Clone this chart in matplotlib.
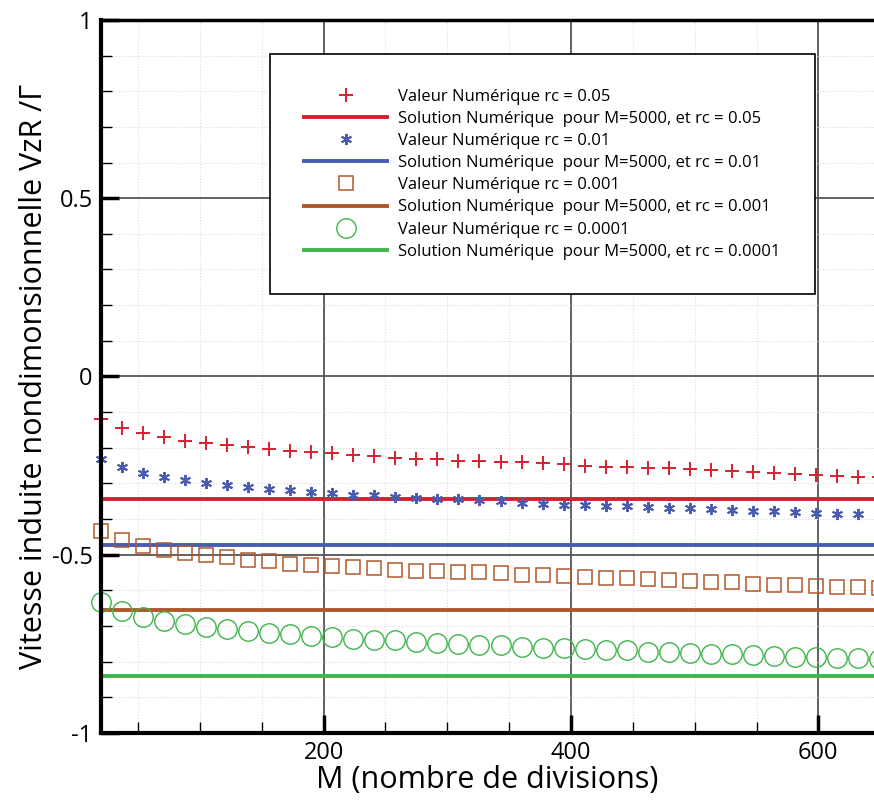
import numpy as np
import matplotlib
matplotlib.use("Agg")
import matplotlib.pyplot as plt
from matplotlib.ticker import MultipleLocator

# M values (nombre de divisions)
M = [20, 37, 54, 71, 88, 105, 122, 139, 156, 173, 190, 207, 224, 241, 258, 275,
     292, 309, 326, 343, 360, 377, 394, 411, 428, 445, 462, 479, 496, 513, 530,
     547, 564, 581, 598, 615, 632, 649]

# valeurs numeriques
v_005 = [-0.120, -0.145, -0.159, -0.171, -0.182, -0.188, -0.193, -0.199, -0.205,
         -0.209, -0.212, -0.215, -0.220, -0.224, -0.228, -0.232, -0.233, -0.236,
         -0.238, -0.240, -0.241, -0.243, -0.246, -0.250, -0.253, -0.253, -0.256,
         -0.258, -0.261, -0.264, -0.266, -0.268, -0.271, -0.275, -0.276, -0.279,
         -0.281, -0.283]
v_001 = [-0.232, -0.255, -0.271, -0.283, -0.290, -0.299, -0.304, -0.311, -0.316,
         -0.318, -0.323, -0.327, -0.332, -0.334, -0.338, -0.341, -0.344, -0.344,
         -0.346, -0.349, -0.354, -0.357, -0.360, -0.362, -0.363, -0.364, -0.367,
         -0.370, -0.370, -0.373, -0.375, -0.378, -0.379, -0.381, -0.384, -0.386,
         -0.387, -0.389]
v_0001 = [-0.435, -0.458, -0.475, -0.486, -0.495, -0.502, -0.508, -0.515, -0.519,
          -0.525, -0.528, -0.532, -0.535, -0.538, -0.542, -0.545, -0.547, -0.549,
          -0.550, -0.553, -0.556, -0.557, -0.559, -0.563, -0.565, -0.567, -0.569,
          -0.572, -0.575, -0.577, -0.578, -0.582, -0.584, -0.586, -0.588, -0.590,
          -0.592, -0.594]
v_00001 = [-0.634, -0.658, -0.675, -0.686, -0.695, -0.703, -0.709, -0.714, -0.720,
           -0.723, -0.728, -0.732, -0.737, -0.739, -0.741, -0.744, -0.747, -0.750,
           -0.753, -0.755, -0.758, -0.761, -0.763, -0.765, -0.767, -0.769, -0.772,
           -0.774, -0.776, -0.778, -0.780, -0.782, -0.784, -0.786, -0.787, -0.790,
           -0.791, -0.793]

# solutions pour M=5000
sol = [-0.345, -0.474, -0.655, -0.840]
rc_labels = ['0.05', '0.01', '0.001', '0.0001']

red = '#d7202f'
blue = '#4a5cb0'
brown = '#b0582c'
green = '#3fb54a'

plt.rcParams['font.family'] = ['Open Sans', 'DejaVu Sans']

fig = plt.figure(figsize=(8.74, 8.0), dpi=100)
ax = fig.add_axes([0.1156, 0.084, 0.8844, 0.891])

xmin, xmax = 20, 645

ax.plot(M, v_005, ls='none', marker='+', ms=10, mew=1.4, c=red,
        label='Valeur Numérique rc = ' + rc_labels[0], clip_on=False)
ax.plot([xmin, xmax], [sol[0], sol[0]], c=red, lw=2.8,
        label='Solution Numérique  pour M=5000, et rc = ' + rc_labels[0])
ax.plot(M, v_001, ls='none', marker=(6, 2, 0), ms=8, mew=1.4, c=blue,
        label='Valeur Numérique rc = ' + rc_labels[1], clip_on=False)
ax.plot([xmin, xmax], [sol[1], sol[1]], c=blue, lw=2.8,
        label='Solution Numérique  pour M=5000, et rc = ' + rc_labels[1])
ax.plot(M, v_0001, ls='none', marker='s', ms=10.5, mew=1.1, mfc='none', mec=brown,
        label='Valeur Numérique rc = ' + rc_labels[2], clip_on=False)
ax.plot([xmin, xmax], [sol[2], sol[2]], c=brown, lw=2.8,
        label='Solution Numérique  pour M=5000, et rc = ' + rc_labels[2])
ax.plot(M, v_00001, ls='none', marker='o', ms=14, mew=1.0, mfc='none', mec=green,
        label='Valeur Numérique rc = ' + rc_labels[3], clip_on=False)
ax.plot([xmin, xmax], [sol[3], sol[3]], c=green, lw=2.8,
        label='Solution Numérique  pour M=5000, et rc = ' + rc_labels[3])

ax.set_xlim(xmin, xmax)
ax.set_ylim(-1, 1)
ax.xaxis.set_major_locator(MultipleLocator(200))
ax.xaxis.set_minor_locator(MultipleLocator(50))
ax.yaxis.set_major_locator(MultipleLocator(0.5))
ax.yaxis.set_minor_locator(MultipleLocator(0.1))
ax.set_yticks([-1, -0.5, 0, 0.5, 1])
ax.set_yticklabels(['-1', '-0.5', '0', '0.5', '1'])

ax.grid(which='major', color='#555555', lw=1.3)
ax.grid(which='minor', color='#dddddd', lw=0.8, ls=':')
ax.set_axisbelow(True)

ax.tick_params(which='major', direction='in', length=13, width=2.5, labelsize=17,
               top=False, right=False, pad=6)
ax.tick_params(which='minor', direction='in', length=8, width=1,
               top=False, right=False)

for side in ['left', 'bottom', 'top']:
    ax.spines[side].set_linewidth(3)
    ax.spines[side].set_color('black')
ax.spines['top'].set_linewidth(2.5)
ax.spines['right'].set_visible(False)

ax.set_xlabel('M (nombre de divisions)', fontsize=22, labelpad=0)
ax.set_ylabel('Vitesse induite nondimonsionnelle VzR /Γ', fontsize=22, labelpad=2)

leg = ax.legend(loc='upper left', bbox_to_anchor=(0.218, 0.952), fontsize=12,
                fancybox=False, edgecolor='black', framealpha=1,
                handlelength=5, labelspacing=0.37, borderpad=2.06,
                handletextpad=0.65, borderaxespad=0)
leg.get_frame().set_linewidth(1.2)

fig.savefig('out.png', dpi=100)
